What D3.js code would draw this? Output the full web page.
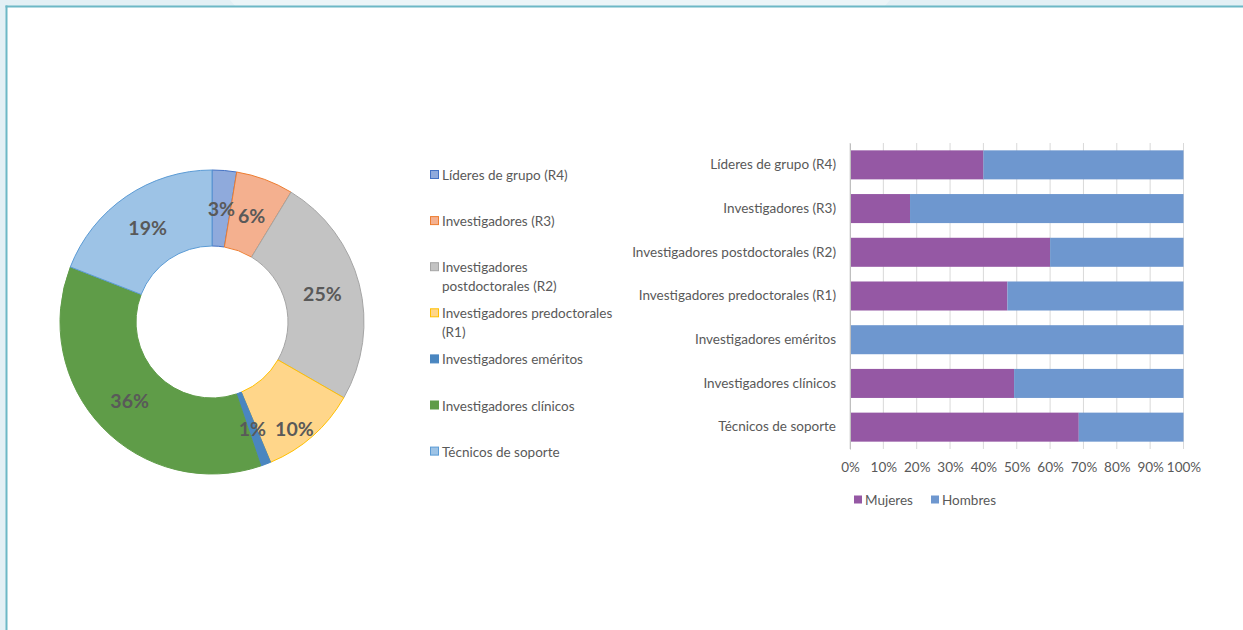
<!DOCTYPE html>
<html><head><meta charset="utf-8">
<script src="https://cdn.jsdelivr.net/npm/d3@7"></script>
<style>
body{margin:0;overflow:hidden;background:#fff}
text{font-family:Lato,'Open Sans',sans-serif}
</style>
</head><body>
<svg id="c" width="1243" height="630"></svg>
<script>
// ---------- data ----------
const pieCategories = ["Líderes de grupo (R4)", "Investigadores (R3)", "Investigadores postdoctorales (R2)", "Investigadores predoctorales (R1)", "Investigadores eméritos", "Investigadores clínicos", "Técnicos de soporte"];
const pieValues = [2.6, 6.1, 24.6, 10.4, 1.1, 36.1, 19.1];
const pieFills = ["#8faadc", "#f4b08f", "#c3c3c3", "#ffd68a", "#4a86c0", "#5f9c48", "#9dc3e6"];
const pieStrokes = ["#4472c4", "#ed7d31", "#a5a5a5", "#ffc000", "#4a86c0", "#5f9c48", "#5b9bd5"];

const barCategories = ["Líderes de grupo (R4)", "Investigadores (R3)", "Investigadores postdoctorales (R2)", "Investigadores predoctorales (R1)", "Investigadores eméritos", "Investigadores clínicos", "Técnicos de soporte"];
const seriesNames = ["Mujeres", "Hombres"];
const mujeres = [40, 18, 60, 47.2, 0, 49.2, 68.6];
const hombres = [60, 82, 40, 52.8, 100, 50.8, 31.4];
const seriesColors = ["#9558a4", "#6e97cf"];
const xTicks = [0, 10, 20, 30, 40, 50, 60, 70, 80, 90, 100];

const svg = d3.select("#c");
const txt = "#595959";
const fam = "Lato,'Open Sans',sans-serif";

// ---------- frame ----------
svg.append("rect").attr("width", 1243).attr("height", 630).attr("fill", "#e3f0f5");
svg.append("polygon").attr("points", "230,0 890,0 884,7 236,7").attr("fill", "#ecf5f8");
svg.append("rect").attr("x", 7).attr("y", 7).attr("width", 1236).attr("height", 623).attr("fill", "#fff");
svg.append("line").attr("x1", 5.5).attr("x2", 1243).attr("y1", 6.5).attr("y2", 6.5).attr("stroke", "#6db8c6").attr("stroke-width", 2);
svg.append("line").attr("x1", 6.5).attr("x2", 6.5).attr("y1", 5.5).attr("y2", 630).attr("stroke", "#6db8c6").attr("stroke-width", 2);

// ---------- donut ----------
const cx = 212, cy = 322, rOut = 152, rIn = 76;
const pie = d3.pie().sort(null).value(d => d);
const arcs = pie(pieValues);
const arc = d3.arc().innerRadius(rIn).outerRadius(rOut);
const labelArc = d3.arc().innerRadius((rIn + rOut) / 2).outerRadius((rIn + rOut) / 2);
const g = svg.append("g").attr("transform", `translate(${cx},${cy})`);
g.selectAll("path").data(arcs).join("path")
  .attr("d", arc)
  .attr("fill", (d, i) => pieFills[i])
  .attr("stroke", (d, i) => pieStrokes[i])
  .attr("stroke-width", 1);
// label nudges (Excel moves the crowded label)
const nudge = {3: [7, 21]};
g.selectAll("text.pl").data(arcs).join("text")
  .attr("class", "pl")
  .attr("transform", (d, i) => {
    const c = labelArc.centroid(d);
    const n = nudge[i] || [0, 0];
    return `translate(${c[0] + n[0]},${c[1] + n[1]})`;
  })
  .attr("text-anchor", "middle").attr("dominant-baseline", "central")
  .attr("font-size", 19.5).attr("font-weight", "bold").attr("fill", txt)
  .text(d => Math.round(d.data) + "%");

// ---------- donut legend ----------
const lg = svg.append("g");
const legY0 = 175, legStep = 46.1, lineH = 18.3, legMaxW = 174;
pieCategories.forEach((name, i) => {
  const y = legY0 + i * legStep;
  lg.append("rect").attr("x", 430.5).attr("y", y - 4.5).attr("width", 8).attr("height", 8)
    .attr("fill", pieFills[i]).attr("stroke", pieStrokes[i]).attr("stroke-width", 1);
  const t = lg.append("text").attr("x", 442).attr("y", y).attr("dominant-baseline", "central")
    .attr("font-size", 13.5).attr("fill", txt);
  const words = name.split(" ");
  let line = [], lineNo = 0;
  let ts = t.append("tspan").attr("x", 442).attr("y", y);
  words.forEach(w => {
    line.push(w);
    ts.text(line.join(" "));
    if (ts.node().getComputedTextLength() > legMaxW && line.length > 1) {
      line.pop();
      ts.text(line.join(" "));
      line = [w];
      lineNo++;
      ts = t.append("tspan").attr("x", 442).attr("y", y + lineNo * lineH).text(w);
    }
  });
});

// ---------- stacked bar ----------
const x = d3.scaleLinear().domain([0, 100]).range([850, 1183.5]);
const yb = d3.scaleBand().domain(barCategories).range([143, 449]).paddingInner(0.336).paddingOuter(0.168);

const grid = svg.append("g");
grid.selectAll("line").data(xTicks).join("line")
  .attr("x1", d => x(d)).attr("x2", d => x(d))
  .attr("y1", 143).attr("y2", 449)
  .attr("stroke", "#d9d9d9").attr("stroke-width", 1);

const stackData = barCategories.map((c, i) => ({cat: c, Mujeres: mujeres[i], Hombres: hombres[i]}));
const stack = d3.stack().keys(seriesNames)(stackData);
svg.append("g").selectAll("g").data(stack).join("g")
  .attr("fill", (d, i) => seriesColors[i])
  .selectAll("rect").data(d => d).join("rect")
  .attr("x", d => x(d[0]))
  .attr("width", d => x(d[1]) - x(d[0]))
  .attr("y", d => yb(d.data.cat))
  .attr("height", yb.bandwidth());

// y axis
const yAxis = svg.append("g").attr("transform", "translate(850,0)")
  .call(d3.axisLeft(yb).tickSize(0).tickPadding(14));
yAxis.select(".domain").attr("stroke", "#bfbfbf");
yAxis.selectAll("text").attr("font-size", 13.5).attr("fill", txt).attr("font-family", fam);

// x axis labels
const xAxis = svg.append("g").attr("transform", "translate(0,449)")
  .call(d3.axisBottom(x).tickValues(xTicks).tickFormat(d => d + "%").tickSize(0).tickPadding(13));
xAxis.select(".domain").remove();
xAxis.selectAll("text").attr("font-size", 13.5).attr("fill", txt).attr("font-family", fam);

// bottom legend
const lx = [854, 931];
seriesNames.forEach((s, i) => {
  svg.append("rect").attr("x", lx[i]).attr("y", 495.5).attr("width", 8).attr("height", 8).attr("fill", seriesColors[i]);
  svg.append("text").attr("x", lx[i] + 11).attr("y", 500).attr("dominant-baseline", "central")
    .attr("font-size", 13.5).attr("fill", txt).text(s);
});
</script>
</body></html>
